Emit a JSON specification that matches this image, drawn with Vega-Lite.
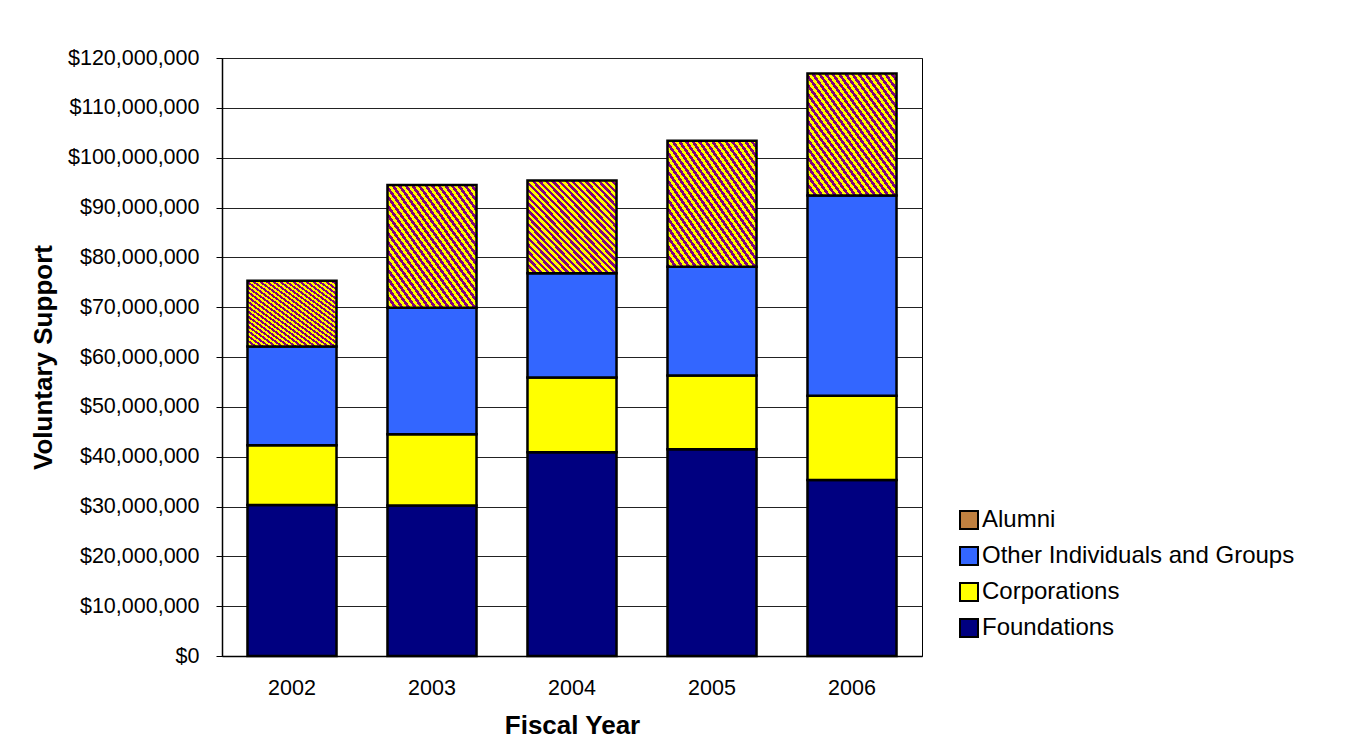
{
  "$schema": "https://vega.github.io/schema/vega-lite/v6.json",
  "width": 700,
  "height": 598,
  "autosize": {"type": "none"},
  "padding": {"left": 222, "top": 58, "right": 429, "bottom": 100},
  "background": "white",
  "data": {
    "values": [
      {"year": "2002", "source": "Foundations", "amount": 30300000},
      {"year": "2002", "source": "Corporations", "amount": 12000000},
      {"year": "2002", "source": "Other Individuals and Groups", "amount": 19800000},
      {"year": "2002", "source": "Alumni", "amount": 13200000},
      {"year": "2003", "source": "Foundations", "amount": 30200000},
      {"year": "2003", "source": "Corporations", "amount": 14300000},
      {"year": "2003", "source": "Other Individuals and Groups", "amount": 25400000},
      {"year": "2003", "source": "Alumni", "amount": 24600000},
      {"year": "2004", "source": "Foundations", "amount": 40900000},
      {"year": "2004", "source": "Corporations", "amount": 15000000},
      {"year": "2004", "source": "Other Individuals and Groups", "amount": 20900000},
      {"year": "2004", "source": "Alumni", "amount": 18600000},
      {"year": "2005", "source": "Foundations", "amount": 41500000},
      {"year": "2005", "source": "Corporations", "amount": 14800000},
      {"year": "2005", "source": "Other Individuals and Groups", "amount": 21800000},
      {"year": "2005", "source": "Alumni", "amount": 25300000},
      {"year": "2006", "source": "Foundations", "amount": 35300000},
      {"year": "2006", "source": "Corporations", "amount": 16900000},
      {"year": "2006", "source": "Other Individuals and Groups", "amount": 40200000},
      {"year": "2006", "source": "Alumni", "amount": 24500000}
    ]
  },
  "transform": [
    {"calculate": "indexof(['Foundations','Corporations','Other Individuals and Groups','Alumni'], datum.source)", "as": "stackRank"}
  ],
  "mark": {"type": "bar", "stroke": "black", "strokeWidth": 2.5, "strokeJoin": "miter"},
  "encoding": {
    "x": {
      "field": "year",
      "type": "ordinal",
      "scale": {"paddingInner": 0.364, "paddingOuter": 0.182},
      "axis": {
        "title": "Fiscal Year",
        "labelAngle": 0,
        "ticks": false,
        "labelPadding": 21,
        "titlePadding": 14,
        "grid": false
      }
    },
    "y": {
      "field": "amount",
      "type": "quantitative",
      "stack": "zero",
      "scale": {"domain": [0, 120000000], "nice": false},
      "axis": {
        "title": "Voluntary Support",
        "format": "$,.0f",
        "values": [0, 10000000, 20000000, 30000000, 40000000, 50000000, 60000000, 70000000, 80000000, 90000000, 100000000, 110000000, 120000000],
        "tickSize": 6,
        "labelPadding": 17,
        "titlePadding": 11,
        "grid": true
      }
    },
    "order": {"field": "stackRank", "type": "quantitative", "sort": "ascending"},
    "color": {
      "condition": {
        "test": "datum.source === 'Alumni'",
        "value": {
          "gradient": "linear", "x1": 0, "y1": 1, "x2": 1, "y2": 0,
          "stops": [
            {"offset": 0, "color": "#800080"}, {"offset": 0.0185, "color": "#800080"},
            {"offset": 0.0185, "color": "#FFFF00"}, {"offset": 0.037, "color": "#FFFF00"},
            {"offset": 0.037, "color": "#800080"}, {"offset": 0.0556, "color": "#800080"},
            {"offset": 0.0556, "color": "#FFFF00"}, {"offset": 0.0741, "color": "#FFFF00"},
            {"offset": 0.0741, "color": "#800080"}, {"offset": 0.0926, "color": "#800080"},
            {"offset": 0.0926, "color": "#FFFF00"}, {"offset": 0.1111, "color": "#FFFF00"},
            {"offset": 0.1111, "color": "#800080"}, {"offset": 0.1296, "color": "#800080"},
            {"offset": 0.1296, "color": "#FFFF00"}, {"offset": 0.1481, "color": "#FFFF00"},
            {"offset": 0.1481, "color": "#800080"}, {"offset": 0.1667, "color": "#800080"},
            {"offset": 0.1667, "color": "#FFFF00"}, {"offset": 0.1852, "color": "#FFFF00"},
            {"offset": 0.1852, "color": "#800080"}, {"offset": 0.2037, "color": "#800080"},
            {"offset": 0.2037, "color": "#FFFF00"}, {"offset": 0.2222, "color": "#FFFF00"},
            {"offset": 0.2222, "color": "#800080"}, {"offset": 0.2407, "color": "#800080"},
            {"offset": 0.2407, "color": "#FFFF00"}, {"offset": 0.2593, "color": "#FFFF00"},
            {"offset": 0.2593, "color": "#800080"}, {"offset": 0.2778, "color": "#800080"},
            {"offset": 0.2778, "color": "#FFFF00"}, {"offset": 0.2963, "color": "#FFFF00"},
            {"offset": 0.2963, "color": "#800080"}, {"offset": 0.3148, "color": "#800080"},
            {"offset": 0.3148, "color": "#FFFF00"}, {"offset": 0.3333, "color": "#FFFF00"},
            {"offset": 0.3333, "color": "#800080"}, {"offset": 0.3519, "color": "#800080"},
            {"offset": 0.3519, "color": "#FFFF00"}, {"offset": 0.3704, "color": "#FFFF00"},
            {"offset": 0.3704, "color": "#800080"}, {"offset": 0.3889, "color": "#800080"},
            {"offset": 0.3889, "color": "#FFFF00"}, {"offset": 0.4074, "color": "#FFFF00"},
            {"offset": 0.4074, "color": "#800080"}, {"offset": 0.4259, "color": "#800080"},
            {"offset": 0.4259, "color": "#FFFF00"}, {"offset": 0.4444, "color": "#FFFF00"},
            {"offset": 0.4444, "color": "#800080"}, {"offset": 0.463, "color": "#800080"},
            {"offset": 0.463, "color": "#FFFF00"}, {"offset": 0.4815, "color": "#FFFF00"},
            {"offset": 0.4815, "color": "#800080"}, {"offset": 0.5, "color": "#800080"},
            {"offset": 0.5, "color": "#FFFF00"}, {"offset": 0.5185, "color": "#FFFF00"},
            {"offset": 0.5185, "color": "#800080"}, {"offset": 0.537, "color": "#800080"},
            {"offset": 0.537, "color": "#FFFF00"}, {"offset": 0.5556, "color": "#FFFF00"},
            {"offset": 0.5556, "color": "#800080"}, {"offset": 0.5741, "color": "#800080"},
            {"offset": 0.5741, "color": "#FFFF00"}, {"offset": 0.5926, "color": "#FFFF00"},
            {"offset": 0.5926, "color": "#800080"}, {"offset": 0.6111, "color": "#800080"},
            {"offset": 0.6111, "color": "#FFFF00"}, {"offset": 0.6296, "color": "#FFFF00"},
            {"offset": 0.6296, "color": "#800080"}, {"offset": 0.6481, "color": "#800080"},
            {"offset": 0.6481, "color": "#FFFF00"}, {"offset": 0.6667, "color": "#FFFF00"},
            {"offset": 0.6667, "color": "#800080"}, {"offset": 0.6852, "color": "#800080"},
            {"offset": 0.6852, "color": "#FFFF00"}, {"offset": 0.7037, "color": "#FFFF00"},
            {"offset": 0.7037, "color": "#800080"}, {"offset": 0.7222, "color": "#800080"},
            {"offset": 0.7222, "color": "#FFFF00"}, {"offset": 0.7407, "color": "#FFFF00"},
            {"offset": 0.7407, "color": "#800080"}, {"offset": 0.7593, "color": "#800080"},
            {"offset": 0.7593, "color": "#FFFF00"}, {"offset": 0.7778, "color": "#FFFF00"},
            {"offset": 0.7778, "color": "#800080"}, {"offset": 0.7963, "color": "#800080"},
            {"offset": 0.7963, "color": "#FFFF00"}, {"offset": 0.8148, "color": "#FFFF00"},
            {"offset": 0.8148, "color": "#800080"}, {"offset": 0.8333, "color": "#800080"},
            {"offset": 0.8333, "color": "#FFFF00"}, {"offset": 0.8519, "color": "#FFFF00"},
            {"offset": 0.8519, "color": "#800080"}, {"offset": 0.8704, "color": "#800080"},
            {"offset": 0.8704, "color": "#FFFF00"}, {"offset": 0.8889, "color": "#FFFF00"},
            {"offset": 0.8889, "color": "#800080"}, {"offset": 0.9074, "color": "#800080"},
            {"offset": 0.9074, "color": "#FFFF00"}, {"offset": 0.9259, "color": "#FFFF00"},
            {"offset": 0.9259, "color": "#800080"}, {"offset": 0.9444, "color": "#800080"},
            {"offset": 0.9444, "color": "#FFFF00"}, {"offset": 0.963, "color": "#FFFF00"},
            {"offset": 0.963, "color": "#800080"}, {"offset": 0.9815, "color": "#800080"},
            {"offset": 0.9815, "color": "#FFFF00"}, {"offset": 1, "color": "#FFFF00"}
          ]
        }
      },
      "field": "source",
      "type": "nominal",
      "scale": {
        "domain": ["Alumni", "Other Individuals and Groups", "Corporations", "Foundations"],
        "range": ["#BF8040", "#3366FF", "#FFFF00", "#000080"]
      },
      "legend": {
        "title": null,
        "orient": "none",
        "legendX": 735,
        "legendY": 450,
        "padding": 0,
        "symbolType": "square",
        "symbolSize": 324,
        "symbolStrokeColor": "black",
        "symbolStrokeWidth": 2,
        "symbolOpacity": 1,
        "labelFont": "Liberation Sans",
        "labelFontSize": 24,
        "labelColor": "black",
        "labelOffset": 1,
        "rowPadding": 10,
        "labelLimit": 400,
        "encode": {
          "symbols": {
            "update": {
              "stroke": {"value": "black"},
              "strokeWidth": {"value": 2}
            }
          }
        }
      }
    }
  },
  "config": {
    "font": "Liberation Sans",
    "view": {"stroke": "black", "strokeWidth": 1},
    "axis": {
      "labelFont": "Liberation Sans",
      "labelFontSize": 21.5,
      "labelColor": "black",
      "titleFont": "Liberation Sans",
      "titleFontSize": 26,
      "titleFontWeight": "bold",
      "titleColor": "black",
      "domainColor": "black",
      "domainWidth": 1.5,
      "tickColor": "black",
      "tickWidth": 1,
      "gridColor": "#222222",
      "gridWidth": 1,
      "gridOpacity": 1
    }
  }
}
